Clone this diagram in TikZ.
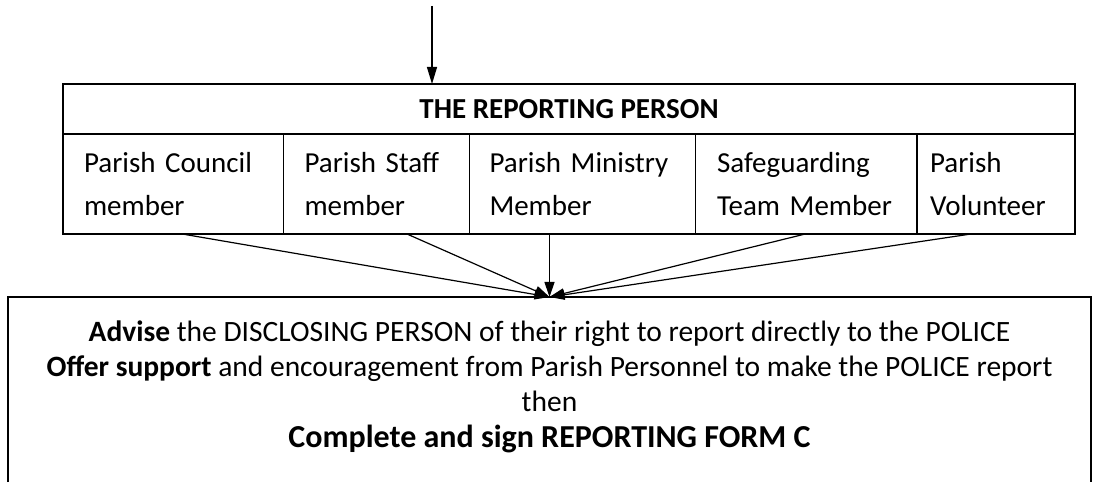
\documentclass[tikz,border=0pt]{standalone}
\usepackage{fontspec}
\setmainfont{Carlito}
\usetikzlibrary{arrows.meta,positioning,calc}

\begin{document}
\begin{tikzpicture}[x=1pt, y=1pt,
    head/.style={draw, line width=1.2pt, outer sep=0pt, minimum width=1012pt, minimum height=50pt,
                 font=\fontsize{29}{35}\selectfont\bfseries},
    cell/.style={draw, line width=1.2pt, outer sep=0pt, minimum height=100pt, align=left,
                 anchor=north west, font=\fontsize{29}{43}\selectfont},
    advice/.style={outer sep=0pt, minimum width=1083pt, minimum height=179pt, align=center,
                   font=\fontsize{29.5}{35.4}\selectfont},
    arr/.style={-{Triangle[length=15pt, width=10pt]}, line width=1.2pt}]
    \useasboundingbox (0,0) rectangle (1094,482);
    \node[head] (head) at (569,373) {THE REPORTING PERSON};
    \node[cell, inner xsep=21pt, text width=178.5pt] (council) at (head.south west) {\mbox{Parish Council}\\member};
    \node[cell, inner xsep=21pt, text width=144pt, right=0pt of council] (staff) {\mbox{Parish Staff}\\member};
    \node[cell, inner xsep=20pt, text width=186pt, right=0pt of staff] (ministry) {\mbox{Parish Ministry}\\Member};
    \node[cell, inner xsep=21.5pt, text width=178.5pt, right=0pt of ministry] (safe) {Safeguarding\\\mbox{Team Member}};
    \node[cell, inner xsep=13pt, text width=132pt, right=0pt of safe] (volunteer) {Parish\\Volunteer};
    \node[advice, anchor=north] (box) at (549.5,185)
      {\textbf{Advise} the DISCLOSING PERSON of their right to report directly to the POLICE\\
       \textbf{Offer support} and encouragement from Parish Personnel to make the POLICE report\\
       then\\
       {\fontsize{32}{36}\selectfont\bfseries Complete and sign REPORTING FORM C}};
    \coordinate (floor) at (0,0);
    \draw[line width=1.2pt] (box.north west |- floor) -- (box.north west) -- (box.north east) -- (box.north east |- floor);
    \coordinate (entry) at (432,476);
    \draw[arr, -{Triangle[length=17pt, width=10pt]}] (entry) -- (entry |- head.north);
    \draw[arr] ([xshift=9pt]council.south) -- (box.north);
    \draw[arr] ([xshift=30.5pt]staff.south) -- (box.north);
    \draw[arr] (box.north |- ministry.south) -- (box.north);
    \draw[arr] ([xshift=-1pt]safe.south) -- (box.north);
    \draw[arr] ([xshift=-25pt]volunteer.south) -- (box.north);
\end{tikzpicture}
\end{document}
